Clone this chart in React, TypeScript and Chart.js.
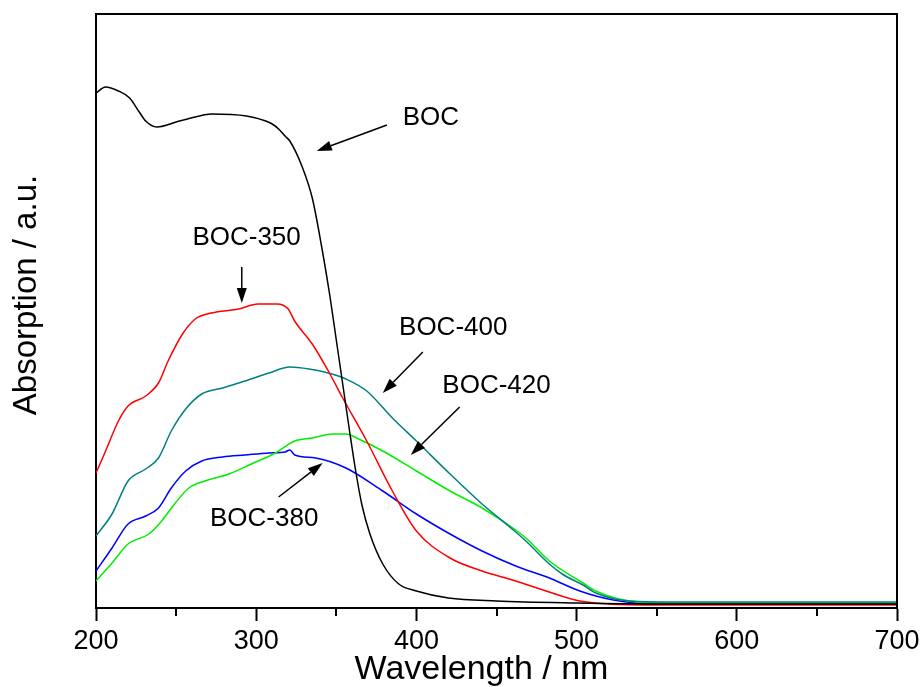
import React, { useEffect, useRef } from "react";
import { Chart, registerables } from "chart.js";

Chart.register(...registerables);

// Wavelength (nm) / absorption (a.u.)
const wlBOC = [200, 206, 214, 221, 227, 231, 238, 252, 262, 272, 294, 306, 310, 314, 318, 321, 329, 335, 341, 346, 350, 354, 358, 362, 366, 371, 379, 389, 400, 420, 450, 500, 550, 600, 700];
const absBOC = [515, 521, 517, 510, 496, 487, 481, 487, 491, 494, 492, 487, 484, 479, 472, 467, 440, 410, 360, 312, 268, 224, 180, 138, 103, 74, 44, 24, 17, 10, 7, 5, 4, 4, 4];

const wl350 = [200, 206, 214, 220, 231, 239, 245, 254, 262, 272, 289, 301, 313, 320, 324, 335, 345, 354, 369, 385, 400, 421, 441, 460, 481, 502, 520, 550, 700];
const abs350 = [135, 157, 187, 202, 212, 225, 247, 274, 289, 295, 299, 304, 304, 299, 287, 264, 237, 210, 167, 117, 77, 50, 37, 28, 17, 7, 4, 3, 3];

const wl400 = [200, 210, 220, 231, 239, 247, 256, 266, 279, 293, 308, 321, 333, 345, 356, 369, 385, 400, 421, 441, 462, 469, 483, 491, 504, 512, 533, 560, 700];
const abs400 = [72, 94, 127, 139, 150, 177, 199, 214, 220, 227, 235, 241, 239, 235, 229, 217, 190, 167, 134, 104, 76, 66, 44, 34, 23, 15, 7, 6, 6];

const wl420 = [200, 210, 220, 233, 241, 249, 258, 268, 283, 297, 312, 324, 335, 348, 356, 364, 379, 400, 421, 441, 462, 469, 483, 504, 512, 533, 560, 700];
const abs420 = [27, 45, 64, 74, 87, 104, 120, 127, 134, 144, 155, 167, 170, 174, 174, 169, 157, 137, 117, 100, 78, 69, 47, 25, 17, 7, 5, 5];

const wl380 = [200, 210, 220, 231, 239, 247, 256, 266, 279, 293, 308, 318, 321, 324, 337, 356, 379, 400, 421, 441, 462, 483, 502, 523, 550, 700];
const abs380 = [37, 60, 84, 92, 100, 120, 137, 147, 151, 153, 155, 156, 158, 153, 150, 140, 117, 94, 74, 57, 42, 30, 17, 8, 4, 4];

const seriesNames = ["BOC", "BOC-350", "BOC-400", "BOC-420", "BOC-380"];
const seriesColors = ["#000000", "#ff0000", "#008080", "#00ee00", "#0000ff"];

const xTicks = [200, 300, 400, 500, 600, 700];
const xMinorTicks = [250, 350, 450, 550, 650];

// Annotation labels and arrows (data coordinates)
const noteLabels = ["BOC", "BOC-350", "BOC-400", "BOC-420", "BOC-380"];
const noteX = [409, 294, 423, 450, 305];
const noteBaseY = [483, 363, 273, 215, 82];
const arrowFromX = [381.6, 291, 404, 427, 314];
const arrowFromY = [483, 341, 256, 201, 111];
const arrowToX = [337.8, 291, 379, 396.5, 341.5];
const arrowToY = [457, 305, 215, 153, 145];

const FONT = "'Liberation Sans', Arial, sans-serif";

function pairs(xs: number[], ys: number[]) {
  return xs.map((x, i) => ({ x, y: ys[i] }));
}

const framePlugin = {
  id: "frameAndNotes",
  afterDraw(chart: any) {
    const { ctx, chartArea, scales } = chart;
    const xs = scales.x;
    const ys = scales.y;
    ctx.save();
    ctx.strokeStyle = "#000";
    ctx.lineWidth = 2;
    // top and right frame
    ctx.beginPath();
    ctx.moveTo(chartArea.left - 1, chartArea.top);
    ctx.lineTo(chartArea.right, chartArea.top);
    ctx.lineTo(chartArea.right, chartArea.bottom + 1);
    ctx.stroke();
    // minor ticks
    ctx.beginPath();
    xMinorTicks.forEach((v) => {
      const px = Math.round(xs.getPixelForValue(v));
      ctx.moveTo(px, chartArea.bottom);
      ctx.lineTo(px, chartArea.bottom + 8);
    });
    ctx.stroke();

    // annotations
    ctx.fillStyle = "#000";
    ctx.font = `26px ${FONT}`;
    ctx.textAlign = "center";
    ctx.textBaseline = "alphabetic";
    noteLabels.forEach((t, i) => {
      ctx.fillText(t, xs.getPixelForValue(noteX[i]), ys.getPixelForValue(noteBaseY[i]));
      const x1 = xs.getPixelForValue(arrowFromX[i]);
      const y1 = ys.getPixelForValue(arrowFromY[i]);
      const x2 = xs.getPixelForValue(arrowToX[i]);
      const y2 = ys.getPixelForValue(arrowToY[i]);
      const ang = Math.atan2(y2 - y1, x2 - x1);
      const hl = 15;
      const hw = 5;
      const bx = x2 - hl * Math.cos(ang);
      const by = y2 - hl * Math.sin(ang);
      ctx.lineWidth = 1.5;
      ctx.beginPath();
      ctx.moveTo(x1, y1);
      ctx.lineTo(bx, by);
      ctx.stroke();
      ctx.beginPath();
      ctx.moveTo(x2, y2);
      ctx.lineTo(bx + hw * Math.sin(ang), by - hw * Math.cos(ang));
      ctx.lineTo(bx - hw * Math.sin(ang), by + hw * Math.cos(ang));
      ctx.closePath();
      ctx.fill();
    });

    // axis titles
    ctx.font = `34px ${FONT}`;
    ctx.textAlign = "center";
    ctx.textBaseline = "alphabetic";
    ctx.fillText("Wavelength / nm", (chartArea.left + chartArea.right) / 2 - 15, 679);
    ctx.font = `33px ${FONT}`;
    ctx.save();
    ctx.translate(36, (chartArea.top + chartArea.bottom) / 2 - 16);
    ctx.rotate(-Math.PI / 2);
    ctx.fillText("Absorption / a.u.", 0, 0);
    ctx.restore();
    ctx.restore();
  },
};

export default function App() {
  const ref = useRef<HTMLCanvasElement | null>(null);
  useEffect(() => {
    document.body.style.margin = "0";
    document.body.style.overflow = "hidden";
    const canvas = ref.current;
    if (!canvas) return;
    const all = [
      pairs(wlBOC, absBOC),
      pairs(wl350, abs350),
      pairs(wl400, abs400),
      pairs(wl420, abs420),
      pairs(wl380, abs380),
    ];
    const chart = new Chart(canvas, {
      type: "line",
      data: {
        datasets: all.map((d, i) => ({
          label: seriesNames[i],
          data: d,
          borderColor: seriesColors[i],
          backgroundColor: seriesColors[i],
          borderWidth: 1.5,
          pointRadius: 0,
          cubicInterpolationMode: "monotone" as const,
          fill: false,
        })),
      },
      options: {
        animation: false,
        responsive: false,
        maintainAspectRatio: false,
        layout: { padding: { top: 14, right: 27, left: 0, bottom: 0 } },
        plugins: {
          legend: { display: false },
          tooltip: { enabled: false },
        },
        scales: {
          x: {
            type: "linear",
            min: 200,
            max: 700,
            afterBuildTicks: (s: any) => {
              s.ticks = xTicks.map((v) => ({ value: v }));
            },
            afterFit: (s: any) => {
              s.height = 79;
            },
            ticks: {
              color: "#000",
              font: { family: FONT, size: 27 },
              padding: 4,
              maxRotation: 0,
              autoSkip: false,
            },
            grid: {
              display: true,
              drawOnChartArea: false,
              drawTicks: true,
              tickLength: 13,
              tickWidth: 2,
              tickColor: "#000",
            },
            border: { display: true, color: "#000", width: 2 },
          },
          y: {
            type: "linear",
            min: 0,
            max: 594,
            afterFit: (s: any) => {
              s.width = 96;
            },
            ticks: { display: false },
            grid: { display: false, drawTicks: false },
            border: { display: true, color: "#000", width: 2 },
          },
        },
      },
      plugins: [framePlugin],
    });
    return () => chart.destroy();
  }, []);
  return (
    <div style={{ width: 924, height: 687, background: "#fff" }}>
      <canvas ref={ref} width={924} height={687} style={{ display: "block" }} />
    </div>
  );
}
